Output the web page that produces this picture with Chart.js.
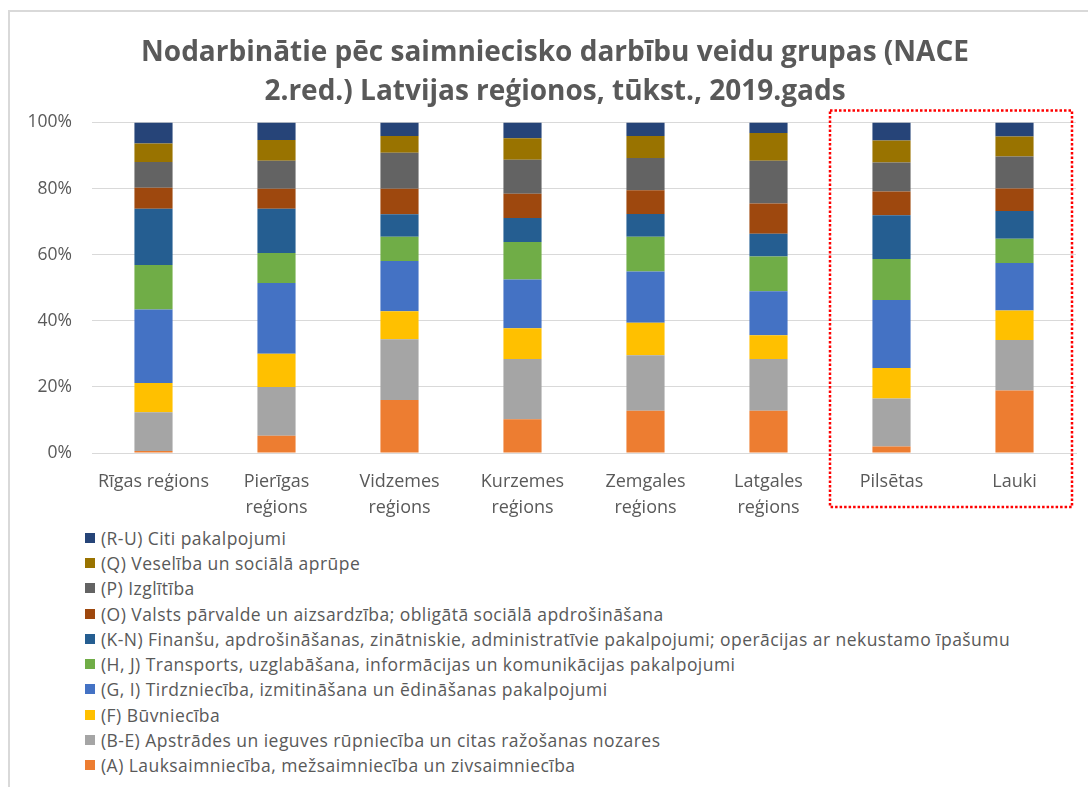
<!DOCTYPE html>
<html>
<head>
<meta charset="utf-8">
<script src="https://cdn.jsdelivr.net/npm/chart.js@4.4.1/dist/chart.umd.min.js"></script>
<style>
  html, body { margin: 0; padding: 0; background: #fff; overflow: hidden; }
  body { width: 1088px; height: 787px; position: relative; font-family: "Open Sans", sans-serif; }
  .frame { position: absolute; left: 8px; top: 10px; width: 1200px; height: 900px; border: 2px solid #d9d9d9; }
  .chart-wrap { position: absolute; left: 0; top: 0; width: 1088px; height: 525px; }
  #legend { position: absolute; left: 85px; top: 525px; margin: 0; padding: 0; list-style: none; }
  #legend li { height: 25.3px; display: flex; align-items: center; font-size: 17.5px; letter-spacing: 0.45px; color: #595959; white-space: nowrap; }
  #legend .box { width: 10px; height: 10px; margin-right: 6px; flex: none; }
</style>
</head>
<body>
<div class="frame"></div>
<div class="chart-wrap"><canvas id="chart"></canvas></div>
<ul id="legend"></ul>
<script>
const titleLines = [
  "Nodarbinātie pēc saimniecisko darbību veidu grupas (NACE",
  "2.red.) Latvijas reģionos, tūkst., 2019.gads",
];

const categories = [
  "Rīgas reģions",
  ["Pierīgas", "reģions"],
  ["Vidzemes", "reģions"],
  ["Kurzemes", "reģions"],
  ["Zemgales", "reģions"],
  ["Latgales", "reģions"],
  "Pilsētas",
  "Lauki",
];

const yTicks = [0, 20, 40, 60, 80, 100];

// shares in %, bottom segment first
const agriculture = [0.6, 5.2, 16.0, 10.2, 12.8, 12.8, 2.0, 18.9];
const industry = [11.7, 14.8, 18.4, 18.2, 16.8, 15.6, 14.5, 15.3];
const construction = [8.9, 10.0, 8.5, 9.3, 9.8, 7.2, 9.2, 8.9];
const trade = [22.2, 21.4, 15.2, 14.8, 15.5, 13.3, 20.6, 14.4];
const transport = [13.5, 9.1, 7.3, 11.3, 10.5, 10.5, 12.4, 7.3];
const finance = [17.0, 13.4, 6.8, 7.3, 6.9, 6.9, 13.2, 8.4];
const publicAdmin = [6.3, 6.0, 7.7, 7.3, 7.2, 9.2, 7.2, 6.8];
const education = [7.8, 8.5, 10.9, 10.3, 9.7, 12.9, 8.8, 9.7];
const health = [5.6, 6.3, 5.1, 6.5, 6.7, 8.4, 6.6, 6.0];
const otherServices = [6.4, 5.3, 4.1, 4.8, 4.1, 3.2, 5.5, 4.3];

const seriesNames = [
  "(A) Lauksaimniecība, mežsaimniecība un zivsaimniecība",
  "(B-E) Apstrādes un ieguves rūpniecība un citas ražošanas nozares",
  "(F) Būvniecība",
  "(G, I) Tirdzniecība, izmitināšana un ēdināšanas pakalpojumi",
  "(H, J) Transports, uzglabāšana, informācijas un komunikācijas pakalpojumi",
  "(K-N) Finanšu, apdrošināšanas, zinātniskie, administratīvie pakalpojumi; operācijas ar nekustamo īpašumu",
  "(O) Valsts pārvalde un aizsardzība; obligātā sociālā apdrošināšana",
  "(P) Izglītība",
  "(Q) Veselība un sociālā aprūpe",
  "(R-U) Citi pakalpojumi",
];
const seriesValues = [agriculture, industry, construction, trade, transport,
  finance, publicAdmin, education, health, otherServices];
const seriesColors = ["#ED7D31", "#A5A5A5", "#FFC000", "#4472C4", "#70AD47",
  "#255E91", "#9E480E", "#636363", "#997300", "#264478"];

const textColor = "#595959";

// red dotted frame round the last two columns
const highlightBox = {
  id: "highlightBox",
  afterLayout(chart) {
    // title sits a bit right of the canvas centre in the original
    if (chart.titleBlock) chart.titleBlock.left += 34;
  },
  afterDraw(chart) {
    const x = chart.scales.x;
    const area = chart.chartArea;
    const step = x.getPixelForValue(1) - x.getPixelForValue(0);
    const left = x.getPixelForValue(6) - step / 2;
    const right = x.getPixelForValue(7) + step / 2 - 4;
    const top = area.top - 12;
    const bottom = area.bottom + 54;
    const ctx = chart.ctx;
    ctx.save();
    ctx.strokeStyle = "#FF0000";
    ctx.lineWidth = 2.5;
    ctx.setLineDash([2.5, 2]);
    ctx.strokeRect(left, top, right - left, bottom - top);
    ctx.restore();
  },
};

const chart = new Chart(document.getElementById("chart"), {
  type: "bar",
  data: {
    labels: categories,
    datasets: seriesNames.map((name, i) => ({
      label: name,
      data: seriesValues[i],
      backgroundColor: seriesColors[i],
      borderWidth: 0,
      barPercentage: 0.31,
      categoryPercentage: 1,
    })),
  },
  options: {
    responsive: true,
    maintainAspectRatio: false,
    animation: false,
    layout: { padding: { left: 0, right: 12, top: 0, bottom: 0 } },
    plugins: {
      legend: { display: false },
      tooltip: { enabled: false },
      title: {
        display: true,
        text: titleLines,
        color: textColor,
        font: { family: "Open Sans", size: 28, weight: "bold", lineHeight: 1.4 },
        padding: { top: 33, bottom: 11 },
      },
    },
    scales: {
      x: {
        stacked: true,
        afterFit: (scale) => {
          scale.height = 72;
        },
        grid: { display: false },
        border: { display: true, color: "#d9d9d9", width: 1 },
        ticks: {
          color: textColor,
          font: { family: "Open Sans", size: 18, lineHeight: 1.44 },
          maxRotation: 0,
          autoSkip: false,
          padding: 8,
        },
      },
      y: {
        stacked: true,
        min: 0,
        max: 100,
        afterBuildTicks: (scale) => {
          scale.ticks = yTicks.map((v) => ({ value: v }));
        },
        afterFit: (scale) => {
          scale.width = 92;
        },
        grid: { color: "#d9d9d9", drawTicks: false },
        border: { display: false },
        ticks: {
          color: textColor,
          font: { family: "Open Sans", size: 17.5 },
          padding: 20,
          callback: (v) => v + "%",
        },
      },
    },
  },
  plugins: [highlightBox],
});

// legend listed top-down, like the stacking order
const legendEl = document.getElementById("legend");
const items = Chart.defaults.plugins.legend.labels.generateLabels(chart).reverse();
legendEl.innerHTML = items
  .map(
    (item) => `
    <li><span class="box" style="background:${item.fillStyle}"></span>${item.text}</li>
  `,
  )
  .join("");
</script>
</body>
</html>
